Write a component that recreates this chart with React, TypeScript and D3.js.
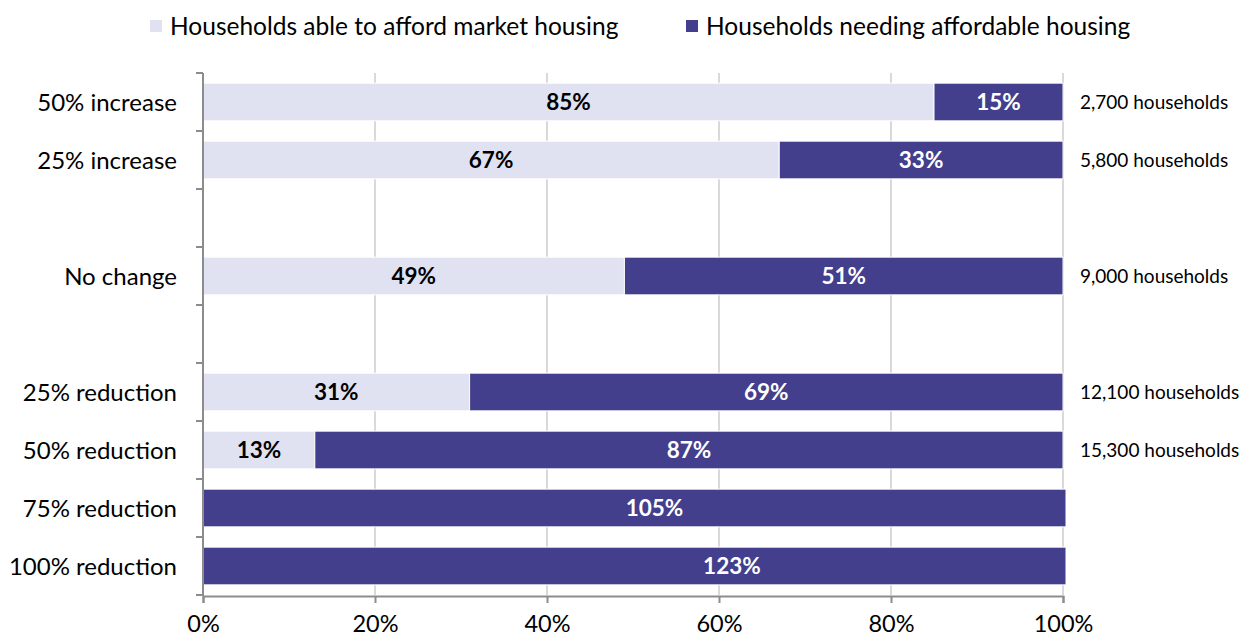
import React, { useEffect, useRef } from "react";
import * as d3 from "d3";

const categories = [
  "50% increase",
  "25% increase",
  "",
  "No change",
  "",
  "25% reduction",
  "50% reduction",
  "75% reduction",
  "100% reduction",
];
const affordMarket = [85, 67, null, 49, null, 31, 13, 0, 0];
const needAffordable = [15, 33, null, 51, null, 69, 87, 105, 123];
const householdLabels = ["2,700 households", "5,800 households", "", "9,000 households", "", "12,100 households", "15,300 households", "", ""];
const xTicks = [0, 20, 40, 60, 80, 100];
const seriesNames = ["Households able to afford market housing", "Households needing affordable housing"];

const LIGHT = "#e1e2f1";
const DARK = "#433f8c";
const FONT = "Lato, 'Open Sans', sans-serif";

const width = 1246;
const height = 639;

const App = () => {
  const ref = useRef<SVGSVGElement>(null);

  useEffect(() => {
    const svg = d3.select(ref.current);
    svg.selectAll("*").remove();

    const x = d3.scaleLinear().domain([0, 100]).range([203, 1063]);
    const keys = categories.map((_, i) => String(i));
    const y = d3.scaleBand().domain(keys).range([73, 595]).paddingInner(0.35).paddingOuter(0.175);
    const clipMax = x(100) + 3;

    // gridlines
    svg
      .append("g")
      .selectAll("line")
      .data(xTicks.filter((t) => t > 0))
      .enter()
      .append("line")
      .attr("x1", (d) => x(d))
      .attr("x2", (d) => x(d))
      .attr("y1", 73)
      .attr("y2", 595)
      .attr("stroke", "#d9d9d9")
      .attr("stroke-width", 2);

    const rows = svg
      .append("g")
      .selectAll("g")
      .data(keys)
      .enter()
      .append("g");

    rows.each(function (k, i) {
      const g = d3.select(this);
      const a = affordMarket[i];
      const n = needAffordable[i];
      if (a === null || n === null) return;
      const y0 = y(k) as number;
      const bh = y.bandwidth();
      if (a > 0) {
        g.append("rect")
          .attr("x", x(0))
          .attr("y", y0)
          .attr("width", x(a) - x(0))
          .attr("height", bh)
          .attr("fill", LIGHT)
          .attr("stroke", "#fff")
          .attr("stroke-width", 1);
        g.append("text")
          .attr("x", x(a / 2))
          .attr("y", y0 + bh / 2)
          .attr("dy", "0.36em")
          .attr("text-anchor", "middle")
          .attr("font-weight", "bold")
          .attr("font-size", 22.5)
          .attr("fill", "#000")
          .text(`${a}%`);
      }
      g.append("rect")
        .attr("x", x(a))
        .attr("y", y0)
        .attr("width", Math.min(x(a + n), clipMax) - x(a))
        .attr("height", bh)
        .attr("fill", DARK)
        .attr("stroke", "#fff")
        .attr("stroke-width", 1);
      g.append("text")
        .attr("x", x(a + n / 2))
        .attr("y", y0 + bh / 2)
        .attr("dy", "0.36em")
        .attr("text-anchor", "middle")
        .attr("font-weight", "bold")
        .attr("font-size", 22.5)
        .attr("fill", "#fff")
        .text(`${n}%`);
      if (householdLabels[i]) {
        g.append("text")
          .attr("x", 1080)
          .attr("y", y0 + bh / 2)
          .attr("dy", "0.36em")
          .attr("font-size", 19)
          .attr("fill", "#000")
          .text(householdLabels[i]);
      }
    });

    // category labels
    svg
      .append("g")
      .selectAll("text")
      .data(keys)
      .enter()
      .append("text")
      .attr("x", 177)
      .attr("y", (d) => (y(d) as number) + y.bandwidth() / 2)
      .attr("dy", "0.36em")
      .attr("text-anchor", "end")
      .attr("font-size", 24)
      .attr("fill", "#000")
      .text((_, i) => categories[i]);

    // y axis line + ticks at band boundaries
    const yAxis = svg.append("g").attr("stroke", "#8c8c8c").attr("stroke-width", 2);
    yAxis.append("line").attr("x1", x(0)).attr("x2", x(0)).attr("y1", 73).attr("y2", 596);
    const bounds = keys.map((k) => (y(k) as number) - (y.step() * 0.35) / 2).concat([595]);
    yAxis
      .selectAll("line.tick")
      .data(bounds)
      .enter()
      .append("line")
      .attr("class", "tick")
      .attr("x1", x(0) - 7)
      .attr("x2", x(0))
      .attr("y1", (d) => d)
      .attr("y2", (d) => d);

    // x axis
    const xAxis = svg
      .append("g")
      .attr("transform", "translate(0,596)")
      .call(
        d3
          .axisBottom(x)
          .tickValues(xTicks)
          .tickSize(7)
          .tickPadding(12)
          .tickFormat((d) => `${d}%`)
      );
    xAxis.select(".domain").attr("stroke", "#8c8c8c").attr("stroke-width", 2);
    xAxis.selectAll(".tick line").attr("stroke", "#8c8c8c").attr("stroke-width", 2);
    xAxis.selectAll(".tick text").attr("font-size", 23.5).attr("font-family", FONT).attr("fill", "#000");

    // legend
    const legendX = [150, 686];
    const legend = svg
      .append("g")
      .selectAll("g")
      .data(seriesNames)
      .enter()
      .append("g")
      .attr("transform", (_, i) => `translate(${legendX[i]},20)`);
    legend
      .append("rect")
      .attr("width", 12)
      .attr("height", 12)
      .attr("fill", (_, i) => (i === 0 ? LIGHT : DARK));
    legend
      .append("text")
      .attr("x", 20)
      .attr("y", 6)
      .attr("dy", "0.36em")
      .attr("font-size", 24.5)
      .attr("fill", "#000")
      .text((d) => d);
  }, []);

  return (
    <svg
      ref={ref}
      width={width}
      height={height}
      style={{ position: "absolute", left: 0, top: 0, fontFamily: FONT, background: "#fff" }}
    ></svg>
  );
};

export default App;
